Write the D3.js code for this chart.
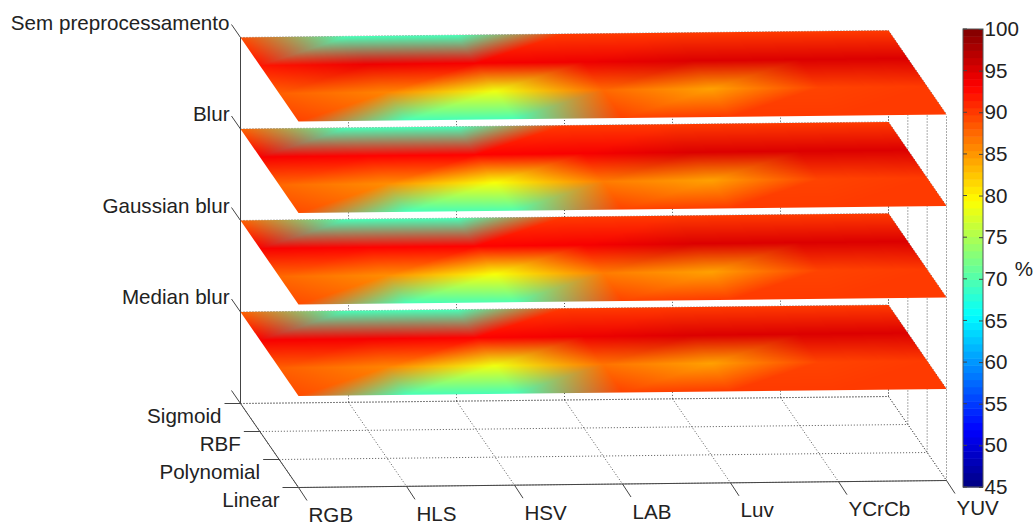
<!DOCTYPE html>
<html>
<head>
<meta charset="utf-8">
<script src="https://cdn.jsdelivr.net/npm/d3@7"></script>
<style>
  html, body { margin: 0; padding: 0; background: white; }
  svg { display: block; }
  text { font-family: "Liberation Sans", Arial, sans-serif; font-size: 20.6px; fill: #222; }
</style>
</head>
<body>
<svg id="chart" width="1035" height="527"></svg>
<script>
const colorSpaces = ["RGB", "HLS", "HSV", "LAB", "Luv", "YCrCb", "YUV"];
const kernels = ["Sigmoid", "RBF", "Polynomial", "Linear"];
const filters = ["Sem preprocessamento", "Blur", "Gaussian blur", "Median blur"];
const percentTicks = [45, 50, 55, 60, 65, 70, 75, 80, 85, 90, 95, 100];

// accuracy (%), rows follow kernels, columns follow colorSpaces
const semPreprocessamento = [
  [89, 69.5, 69.5, 90, 90, 90, 90],
  [92, 94, 93.5, 94, 95, 95, 95],
  [88, 86, 78.5, 87.5, 84.5, 89.5, 90],
  [89.5, 69.5, 69.5, 89.5, 90, 90, 90]
];
const blur = [
  [88, 69.5, 69.5, 90, 90, 90, 90],
  [93.5, 93, 93, 93.5, 95, 95, 95],
  [87.5, 85.5, 79, 86.5, 84.5, 89.5, 90],
  [89, 69.5, 70, 89.5, 90, 90, 90]
];
const gaussianBlur = [
  [88, 69.5, 69.5, 90, 90, 90, 90],
  [93.5, 93, 93, 93.5, 95, 95, 95],
  [87.5, 85.5, 79, 86.5, 84.5, 89.5, 90],
  [89, 69.5, 70, 89.5, 90, 90, 90]
];
const medianBlur = [
  [88, 69.5, 69.5, 90, 90, 90, 90],
  [93.5, 93.5, 93, 94, 95, 95, 95],
  [88, 86, 78.5, 87, 84.5, 89.5, 90],
  [89, 69.5, 69.5, 89.5, 90, 90, 90]
];
const sliceValues = [semPreprocessamento, blur, gaussianBlur, medianBlur];

const svg = d3.select("svg#chart");

// jet colormap, same stops as matlab
const jet = d3.scaleLinear()
  .domain([0, 1 / 8, 3 / 8, 5 / 8, 7 / 8, 1])
  .range(["rgb(0,0,128)", "rgb(0,0,255)", "rgb(0,255,255)", "rgb(255,255,0)", "rgb(255,0,0)", "rgb(128,0,0)"])
  .interpolate(d3.interpolateRgb);
const percentToUnit = d3.scaleLinear().domain([45, 100]).range([0, 1]).clamp(true);

// oblique projection of the 3d box: screen position = floor corner + the three axis vectors
const origin = { x: 240.5, y: 403.5 };
const colX = d3.scalePoint().domain(colorSpaces).range([0, 648]);
const colY = d3.scalePoint().domain(colorSpaces).range([0, -7]);
const rowX = d3.scalePoint().domain(kernels).range([0, 58]);
const rowY = d3.scalePoint().domain(kernels).range([0, 84]);
const levelY = d3.scaleLinear().domain([0, 4]).range([0, -366]);
const levels = [0, 1, 2, 3, 4];
const filterLevel = d3.scaleOrdinal().domain(filters).range([4, 3, 2, 1]);

function project(col, row, level) {
  return {
    x: origin.x + colX(col) + rowX(row),
    y: origin.y + colY(col) + rowY(row) + levelY(level)
  };
}

const firstCol = colorSpaces[0], lastCol = colorSpaces[colorSpaces.length - 1];
const firstRow = kernels[0], lastRow = kernels[kernels.length - 1];

function addLine(group, a, b, cls) {
  group.append("line").attr("class", cls)
    .attr("x1", a.x).attr("y1", a.y).attr("x2", b.x).attr("y2", b.y);
}

//dotted grid on floor, back wall and right wall
const grid = svg.append("g").attr("id", "grid")
  .attr("fill", "none").attr("stroke", "#555").attr("stroke-width", 1).attr("stroke-dasharray", "1,2");
colorSpaces.forEach(function(c) {
  addLine(grid, project(c, firstRow, 0), project(c, lastRow, 0), "gridline");
  addLine(grid, project(c, firstRow, 0), project(c, firstRow, 4), "gridline");
});
kernels.forEach(function(k) {
  addLine(grid, project(firstCol, k, 0), project(lastCol, k, 0), "gridline");
  addLine(grid, project(lastCol, k, 0), project(lastCol, k, 4), "gridline");
});
levels.forEach(function(l) {
  addLine(grid, project(firstCol, firstRow, l), project(lastCol, firstRow, l), "gridline");
  addLine(grid, project(lastCol, firstRow, l), project(lastCol, lastRow, l), "gridline");
});

//paints one slice into a canvas. vertex colours are blended in rgb over two triangles per cell like matlab's gouraud shading
function sliceTexture(values) {
  const cols = colorSpaces.length - 1, rows = kernels.length - 1;
  const pxPerCol = 108, pxPerRow = 84;
  const canvas = document.createElement("canvas");
  canvas.width = cols * pxPerCol;
  canvas.height = rows * pxPerRow;
  const ctx = canvas.getContext("2d");
  const image = ctx.createImageData(canvas.width, canvas.height);
  const vertex = values.map(function(row) {
    return row.map(function(v) { return d3.rgb(jet(percentToUnit(v))); });
  });
  for (let py = 0; py < canvas.height; py++) {
    for (let px = 0; px < canvas.width; px++) {
      const u = (px + 0.5) / pxPerCol, v = (py + 0.5) / pxPerRow;
      const i = Math.min(Math.floor(u), cols - 1), j = Math.min(Math.floor(v), rows - 1);
      const s = u - i, t = v - j;
      const A = vertex[j][i], B = vertex[j][i + 1], C = vertex[j + 1][i], D = vertex[j + 1][i + 1];
      let wA, wB, wC, wD;
      // cell diagonal runs from the front left vertex to the back right vertex
      if (s + t <= 1) { wA = 1 - s - t; wB = s; wC = t; wD = 0; }
      else { wA = 0; wB = 1 - t; wC = 1 - s; wD = s + t - 1; }
      const k = (py * canvas.width + px) * 4;
      image.data[k] = wA * A.r + wB * B.r + wC * C.r + wD * D.r;
      image.data[k + 1] = wA * A.g + wB * B.g + wC * C.g + wD * D.g;
      image.data[k + 2] = wA * A.b + wB * B.b + wC * C.b + wD * D.b;
      image.data[k + 3] = 255;
    }
  }
  ctx.putImageData(image, 0, 0);
  return canvas;
}

//draws the four slices, bottom one first
const slices = svg.append("g").attr("id", "slices");
filters.slice().reverse().forEach(function(name) {
  const level = filterLevel(name);
  const canvas = sliceTexture(sliceValues[filters.indexOf(name)]);
  const o = project(firstCol, firstRow, level);
  const right = project(lastCol, firstRow, level);
  const front = project(firstCol, lastRow, level);
  const m = [
    (right.x - o.x) / canvas.width, (right.y - o.y) / canvas.width,
    (front.x - o.x) / canvas.height, (front.y - o.y) / canvas.height,
    o.x, o.y
  ];
  slices.append("image")
    .attr("width", canvas.width).attr("height", canvas.height)
    .attr("href", canvas.toDataURL())
    .attr("preserveAspectRatio", "none")
    .attr("transform", "matrix(" + m.join(",") + ")");
});

//axis lines and ticks of the box
const axes = svg.append("g").attr("id", "axes").attr("stroke", "#444").attr("stroke-width", 1).attr("fill", "none");
addLine(axes, project(firstCol, firstRow, 0), project(firstCol, firstRow, 4), "axis");
addLine(axes, project(firstCol, firstRow, 0), project(firstCol, lastRow, 0), "axis");
addLine(axes, project(firstCol, lastRow, 0), project(lastCol, lastRow, 0), "axis");
colorSpaces.forEach(function(c) {
  const p = project(c, lastRow, 0);
  addLine(axes, p, { x: p.x + 8.5, y: p.y + 13 }, "tick");
});
kernels.forEach(function(k) {
  const p = project(firstCol, k, 0);
  addLine(axes, { x: p.x - 16, y: p.y }, p, "tick");
});
levels.forEach(function(l) {
  const p = project(firstCol, firstRow, l);
  addLine(axes, { x: p.x - 9, y: p.y - 13 }, p, "tick");
});

//tick labels
const labels = svg.append("g").attr("id", "labels");
filters.forEach(function(name) {
  const p = project(firstCol, firstRow, filterLevel(name));
  labels.append("text").attr("x", p.x - 11).attr("y", p.y - 14.5).attr("dy", "0.32em")
    .attr("text-anchor", "end").text(name);
});
kernels.forEach(function(k) {
  const p = project(firstCol, k, 0);
  labels.append("text").attr("x", p.x - 19).attr("y", p.y + 13).attr("dy", "0.32em")
    .attr("text-anchor", "end").text(k);
});
colorSpaces.forEach(function(c) {
  const p = project(c, lastRow, 0);
  labels.append("text").attr("x", p.x + 10).attr("y", p.y + 28).attr("dy", "0.32em")
    .attr("text-anchor", "start").text(c);
});

//colorbar
const barX = 963, barW = 20;
const barScale = d3.scaleLinear().domain([45, 100]).range([487, 29]);
const bands = d3.range(64);
const bandScale = d3.scaleBand().domain(bands).range([487, 29]);
const bar = svg.append("g").attr("id", "colorbar");
bar.selectAll("rect.band").data(bands).join("rect").attr("class", "band")
  .attr("x", barX).attr("width", barW)
  .attr("y", function(d) { return bandScale(d); })
  .attr("height", bandScale.bandwidth() + 0.5)
  .attr("fill", function(d) { return jet((d + 0.5) / 64); });
bar.append("rect").attr("x", barX).attr("y", 29).attr("width", barW).attr("height", 458)
  .attr("fill", "none").attr("stroke", "#555");

const barAxis = bar.append("g").attr("transform", "translate(" + (barX + barW) + ",0)")
  .call(d3.axisRight(barScale).tickValues(percentTicks).tickFormat(d3.format("d")).tickSize(-4).tickPadding(1.5));
barAxis.select(".domain").remove();
barAxis.selectAll("line").attr("stroke", "#444");
barAxis.selectAll("text").style("font-size", "20.6px").style("font-family", "'Liberation Sans', Arial, sans-serif").attr("fill", "#222");
bar.selectAll("line.leftTick").data(percentTicks).join("line").attr("class", "leftTick")
  .attr("x1", barX).attr("x2", barX + 4)
  .attr("y1", function(d) { return barScale(d); }).attr("y2", function(d) { return barScale(d); })
  .attr("stroke", "#444");
svg.append("text").attr("x", 1024).attr("y", 269).attr("dy", "0.32em").attr("text-anchor", "middle").text("%");
</script>
</body>
</html>
